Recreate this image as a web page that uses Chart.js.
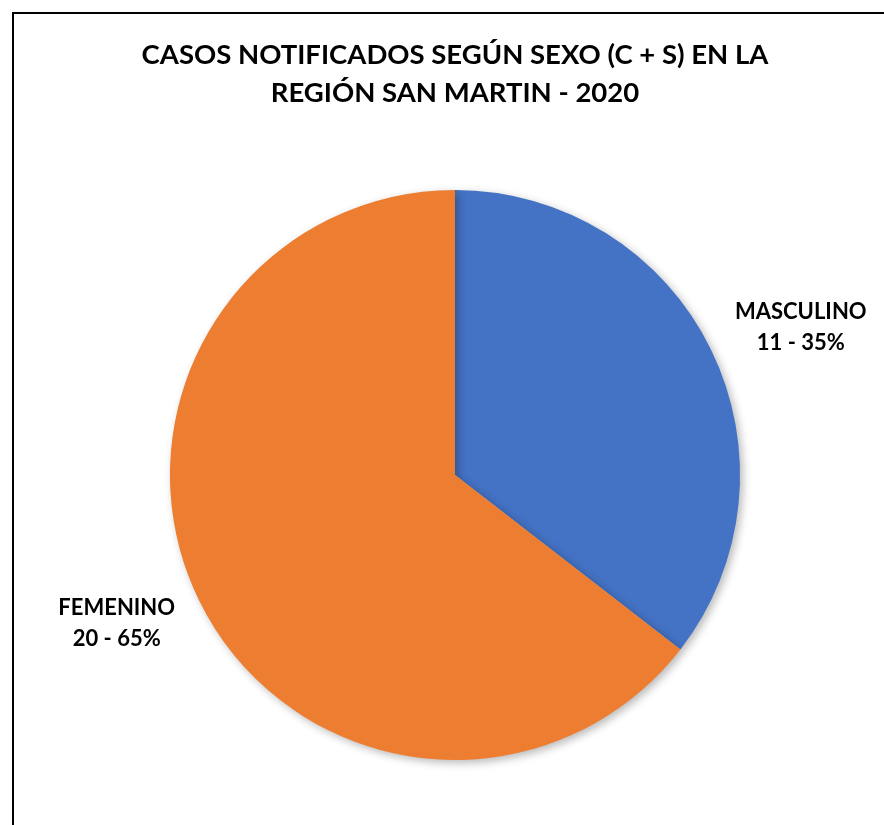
<!DOCTYPE html>
<html>
<head>
<meta charset="utf-8">
<script src="https://cdn.jsdelivr.net/npm/chart.js@4.4.0/dist/chart.umd.min.js"></script>
<style>
  body { margin: 0; background: #fff; }
  .wrap { position: relative; width: 884px; height: 825px; overflow: hidden; }
  .frame { position: absolute; left: 12px; top: 12px; width: 1000px; height: 1000px; border: 2px solid #000; box-sizing: border-box; }
  canvas { position: absolute; left: 0; top: 0; }
</style>
</head>
<body>
<div class="wrap">
  <div class="frame"></div>
  <canvas id="pieChart" width="884" height="825"></canvas>
</div>
<script>
// Data
const categories = ['MASCULINO', 'FEMENINO'];
const cases = [11, 20];
const percentLabels = ['35%', '65%'];
const sliceColors = ['#4472C4', '#ED7D31'];
const titleLines = ['CASOS NOTIFICADOS SEGÚN SEXO (C + S) EN LA', 'REGIÓN SAN MARTIN - 2020'];

const FONT = 'Lato, "Open Sans", sans-serif';

// soft shadow under the pie, like the Excel original
const shadowPlugin = {
    id: 'pieShadow',
    beforeDatasetsDraw(chart) {
        const ctx = chart.ctx;
        ctx.save();
        ctx.shadowColor = 'rgba(0,0,0,0.28)';
        ctx.shadowBlur = 8;
        ctx.shadowOffsetX = 3;
        ctx.shadowOffsetY = 3;
    },
    afterDatasetsDraw(chart) {
        chart.ctx.restore();
    }
};

// outside labels: name on one line, "value - pct" below
const outsideLabels = {
    id: 'outsideLabels',
    afterDraw(chart) {
        const ctx = chart.ctx;
        const meta = chart.getDatasetMeta(0);
        ctx.save();
        ctx.font = 'bold 22px ' + FONT;
        ctx.fillStyle = '#000';
        ctx.textAlign = 'center';
        ctx.textBaseline = 'middle';
        meta.data.forEach((arc, i) => {
            const p = arc.getProps(['x', 'y', 'startAngle', 'endAngle', 'outerRadius'], true);
            const mid = (p.startAngle + p.endAngle) / 2;
            const ox = p.x + Math.cos(mid) * p.outerRadius;
            const oy = p.y + Math.sin(mid) * p.outerRadius;
            const line1 = categories[i];
            const line2 = cases[i] + ' - ' + percentLabels[i];
            const w = Math.max(ctx.measureText(line1).width, ctx.measureText(line2).width);
            const dir = Math.cos(mid) >= 0 ? 1 : -1;
            const cx = ox + dir * (24 + w / 2);
            const cy = oy + Math.sin(mid) * 52;
            ctx.fillText(line1, cx, cy - 15);
            ctx.fillText(line2, cx, cy + 16);
        });
        ctx.restore();
    }
};

const ctx = document.getElementById('pieChart').getContext('2d');
const pieChart = new Chart(ctx, {
    type: 'pie',
    data: {
        labels: categories,
        datasets: [{
            data: cases,
            backgroundColor: sliceColors,
            borderWidth: 0,
            hoverOffset: 0
        }]
    },
    options: {
        responsive: false,
        animation: false,
        layout: {
            padding: { left: 100, right: 74, top: 0, bottom: 65 }
        },
        plugins: {
            legend: { display: false },
            tooltip: { enabled: false },
            title: {
                display: true,
                text: titleLines,
                color: '#000',
                font: { family: FONT, size: 27.5, weight: 'bold', lineHeight: 1.38 },
                padding: { top: 36, bottom: 78 }
            }
        }
    },
    plugins: [shadowPlugin, outsideLabels]
});
</script>
</body>
</html>
